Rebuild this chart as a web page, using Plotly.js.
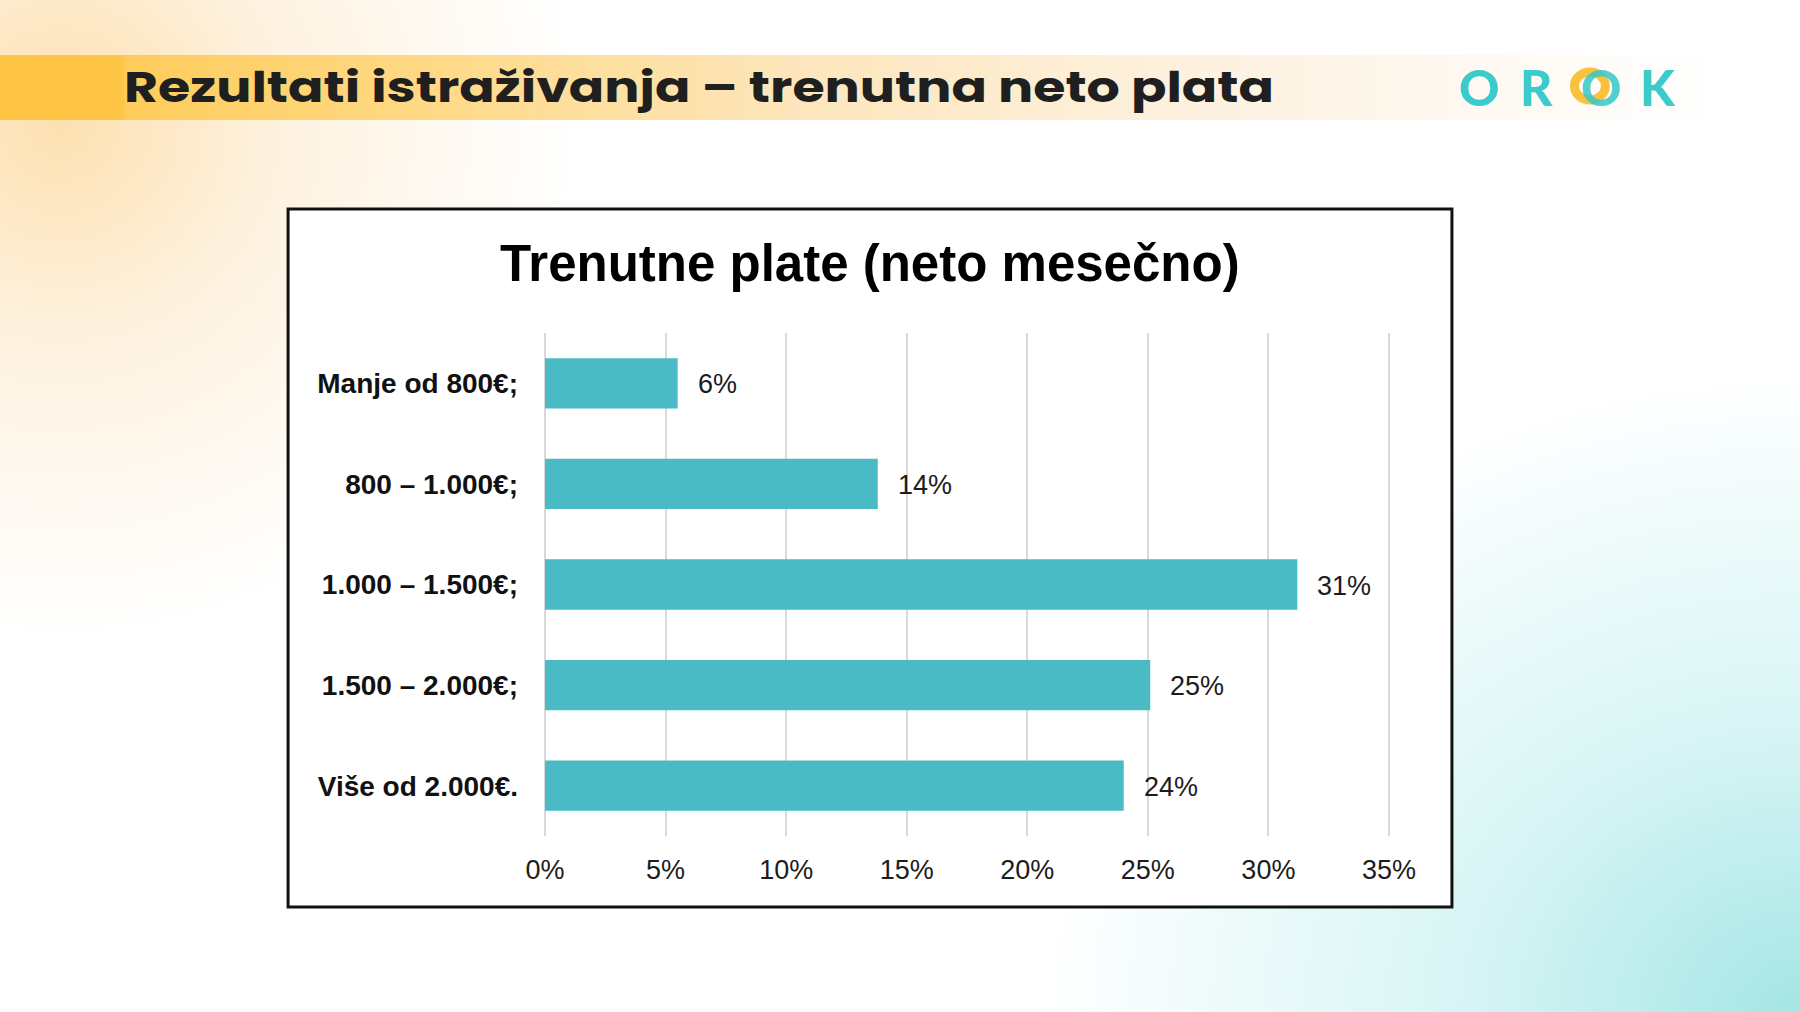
<!DOCTYPE html>
<html>
<head>
<meta charset="utf-8">
<script src="https://cdn.plot.ly/plotly-3.0.1.min.js"></script>
<style>
html, body { margin: 0; padding: 0; background: #ffffff; }
#wrap {
  position: relative; width: 1800px; height: 1012px; overflow: hidden;
  background:
    radial-gradient(ellipse 760px 640px at 1800px 1012px, rgba(160,228,228,0.95) 0%, rgba(190,238,238,0.6) 45%, rgba(255,255,255,0) 100%),
    radial-gradient(ellipse 520px 520px at 60px 120px, rgba(252,214,150,0.75) 0%, rgba(253,228,190,0.45) 45%, rgba(255,255,255,0) 100%),
    #ffffff;
}
#band {
  position: absolute; left: 0; top: 55px; width: 1800px; height: 65px;
  background: linear-gradient(to right, #FFC545 0px, #FFC545 124px, #FFCC5A 124px, #FED985 420px, #FDE6BC 800px, #FDF0DC 1150px, rgba(254,248,240,0.8) 1500px, rgba(255,255,255,0) 1720px);
}
#chart { position: absolute; left: 0; top: 0; width: 1800px; height: 1012px; }
</style>
</head>
<body>
<div id="wrap"><div id="band"></div><div id="chart"></div></div>
<script>
// ---- data ----
const categories = ['Manje od 800€;', '800 – 1.000€;', '1.000 – 1.500€;', '1.500 – 2.000€;', 'Više od 2.000€.'];
const values = [5.5, 13.8, 31.2, 25.1, 24.0];
const valueLabels = ['6%', '14%', '31%', '25%', '24%'];
const tickValues = [0, 5, 10, 15, 20, 25, 30, 35];
const tickLabels = ['0%', '5%', '10%', '15%', '20%', '25%', '30%', '35%'];
const chartTitle = 'Trenutne plate (neto mesečno)';
const pageTitle = 'Rezultati istraživanja – trenutna neto plata';
const logoLetters = ['O', 'R', 'O', 'K'];

// ---- geometry helpers ----
const W = 1800, H = 1012;
const X0 = 545, X35 = 1389;            // pixel of 0% and 35%
const pad = 0.5;                        // extra range so edge gridlines are drawn
const unit = (X35 - X0) / 35;
const L = X0 - pad * unit, R = X35 + pad * unit;
const T = 333, B = 836;
const px = v => (v - L) / (R - L);
const py = v => (B - v) / (B - T);

const teal = '#3CCBCB';
const logoX = [1480, 1537, 1602, 1658];
const logoColors = [teal, teal, 'rgba(52,200,200,0.85)', teal];

const annotations = [];
categories.forEach((c, i) => {
  annotations.push({
    x: values[i], y: c, xref: 'x', yref: 'y', text: valueLabels[i],
    xanchor: 'left', yanchor: 'middle', xshift: 18, yshift: -1, showarrow: false,
    font: { family: 'Liberation Sans, Arial, sans-serif', size: 27, color: '#1c1c1c' }
  });
});
annotations.push({
  x: px(870), y: py(264), xref: 'paper', yref: 'paper', text: chartTitle,
  xanchor: 'center', yanchor: 'middle', showarrow: false,
  font: { family: 'Liberation Sans, Arial, sans-serif', size: 51, color: '#000000', weight: 700 }
});
annotations.push({
  x: px(121), y: py(87), xref: 'paper', yref: 'paper', text: pageTitle,
  xanchor: 'left', yanchor: 'middle', showarrow: false,
  font: { family: 'Poppins, Inter, sans-serif', size: 43, color: '#1f1f1f', weight: 700 }
});
logoLetters.forEach((ch, i) => {
  annotations.push({
    x: px(logoX[i]), y: py(87), xref: 'paper', yref: 'paper', text: ch,
    xanchor: 'center', yanchor: 'middle', showarrow: false,
    font: { family: 'Lato, sans-serif', size: 50, color: logoColors[i], weight: 900 }
  });
});

const trace = {
  type: 'bar', orientation: 'h',
  x: values, y: categories, width: 0.5,
  marker: { color: '#4ABAC5', line: { width: 0 } },
  hoverinfo: 'skip'
};

const layout = {
  width: W, height: H,
  margin: { l: L, r: W - R, t: T, b: H - B, pad: 0 },
  paper_bgcolor: 'rgba(0,0,0,0)', plot_bgcolor: 'rgba(0,0,0,0)',
  showlegend: false,
  xaxis: {
    range: [-pad, 35 + pad], tickvals: tickValues, ticktext: tickLabels,
    showgrid: true, gridcolor: '#D9D9D9', gridwidth: 2, zeroline: false,
    showline: false, ticks: '', ticklabelstandoff: 15,
    tickfont: { family: 'Liberation Sans, Arial, sans-serif', size: 27, color: '#1c1c1c' },
    fixedrange: true
  },
  yaxis: {
    type: 'category', autorange: 'reversed',
    showgrid: false, zeroline: false, showline: false, ticks: '', ticklabelstandoff: 14,
    tickfont: { family: 'Liberation Sans, Arial, sans-serif', size: 28, color: '#111111', weight: 700 },
    fixedrange: true
  },
  shapes: [
    {
      type: 'rect', xref: 'paper', yref: 'paper', layer: 'below',
      x0: px(288), x1: px(1452), y0: py(907), y1: py(209),
      fillcolor: '#ffffff', line: { color: '#111111', width: 3 }
    },
    {
      type: 'circle', xref: 'paper', yref: 'paper', layer: 'below',
      x0: px(1574.5), x1: px(1605.5), y0: py(100), y1: py(72),
      fillcolor: 'rgba(0,0,0,0)', line: { color: 'rgba(249,190,50,0.95)', width: 9 }
    }
  ],
  annotations: annotations
};

Plotly.newPlot('chart', [trace], layout, { staticPlot: true, displayModeBar: false }).then(gd => {
  // stretch the page title horizontally to match the wide banner lettering
  const host = gd.getBoundingClientRect();
  gd.querySelectorAll('.annotation-text').forEach(el => {
    if (el.textContent === pageTitle) {
      el.setAttribute('textLength', 1150);
      el.setAttribute('lengthAdjust', 'spacingAndGlyphs');
      const r = el.getBoundingClientRect();
      const dx = 124 - (r.left - host.left);
      const prev = el.getAttribute('transform') || '';
      el.setAttribute('transform', 'translate(' + dx + ',0) ' + prev);
    }
  });
});
</script>
</body>
</html>
